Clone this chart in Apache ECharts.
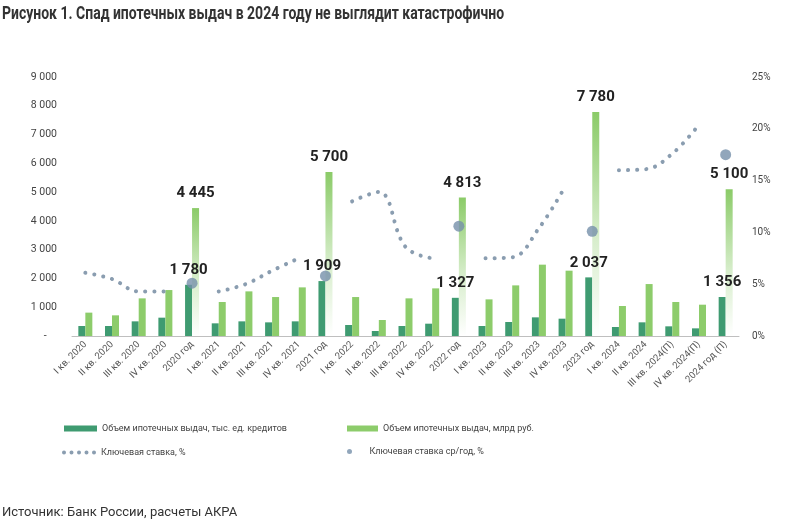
<!DOCTYPE html>
<html>
<head>
<meta charset="utf-8">
<script src="https://cdn.jsdelivr.net/npm/echarts@6/dist/echarts.min.js"></script>
<style>
html,body{margin:0;padding:0;background:#fff;}
#c{width:800px;height:527px;}
</style>
</head>
<body>
<div id="c"></div>
<script>
const categories = ['I кв. 2020','II кв. 2020','III кв. 2020','IV кв. 2020','2020 год',
  'I кв. 2021','II кв. 2021','III кв. 2021','IV кв. 2021','2021 год',
  'I кв. 2022','II кв. 2022','III кв. 2022','IV кв. 2022','2022 год',
  'I кв. 2023','II кв. 2023','III кв. 2023','IV кв. 2023','2023 год',
  'I кв. 2024','II кв. 2024','III кв. 2024(П)','IV кв. 2024(П)','2024 год (П)'];
const loansCount = [347,347,509,637,1780, 440,509,474,509,1909, 382,174,347,428,1327, 347,486,648,602,2037, 312,475,336,266,1356];
const loansVolume = [812,718,1308,1597,4445, 1181,1551,1354,1690,5700, 1354,556,1308,1655,4813, 1273,1759,2479,2270,7780, 1042,1805,1181,1088,5100];
const keyRate = [6.1,5.5,4.3,4.3,null, 4.3,5.0,6.3,7.5,null, 13.0,13.9,8.6,7.5,null, 7.5,7.6,10.4,14.5,null, 16.0,16.1,17.6,20.4,null];
const keyRateAvg = [null,null,null,null,5.1, null,null,null,null,5.8, null,null,null,null,10.6, null,null,null,null,10.1, null,null,null,null,17.5];
const leftTicks = [0,1000,2000,3000,4000,5000,6000,7000,8000,9000];
const rightTicks = [0,5,10,15,20,25];

const names = ['Объем ипотечных выдач, тыс. ед. кредитов','Объем ипотечных выдач, млрд руб.','Ключевая ставка, %','Ключевая ставка ср/год, %'];
const titleText = 'Рисунок 1. Спад ипотечных выдач в 2024 году не выглядит катастрофично';
const sourceText = 'Источник: Банк России, расчеты АКРА';
const DARK = '#3f9b71', LIGHT = '#8dcc6b', DOT = '#8a9db0', AVG = '#7590aa';
const FONT = 'Roboto, "Noto Sans", sans-serif';
const fmt = v => String(v).replace(/\B(?=(\d{3})+(?!\d))/g, ' ');
const isYear = c => c.indexOf('год') >= 0;

const labelStyle = {show:true, position:'top', distance:7, fontSize:15, fontWeight:'bold', color:'#222', fontFamily:FONT, formatter: p => fmt(p.value)};

const darkData = loansCount.map((v,i) => isYear(categories[i]) ? {value:v, label:labelStyle} : v);
const lightData = loansVolume.map((v,i) => isYear(categories[i]) ? {
  value:v, label:labelStyle,
  itemStyle:{color:new echarts.graphic.LinearGradient(0,0,0,1,[
    {offset:0,color:'#8bcb68'},{offset:0.55,color:'#d6edca'},{offset:1,color:'#ffffff'}])}
} : v);

const dotsIcon = 'path://M0,2a2,2 0 1,0 4,0a2,2 0 1,0 -4,0Z M7.5,2a2,2 0 1,0 4,0a2,2 0 1,0 -4,0Z M15,2a2,2 0 1,0 4,0a2,2 0 1,0 -4,0Z M22.5,2a2,2 0 1,0 4,0a2,2 0 1,0 -4,0Z M30,2a2,2 0 1,0 4,0a2,2 0 1,0 -4,0Z';
const legText = {fontSize:9, color:'#444', fontFamily:FONT};

const chart = echarts.init(document.getElementById('c'), null, {renderer:'canvas'});
chart.setOption({
  animation:false,
  backgroundColor:'#fff',
  textStyle:{fontFamily:FONT},
  graphic:[
    {type:'text', x:2, y:6, scaleX:0.8, style:{text:titleText, font:'bold 17.5px Roboto, sans-serif', fill:'#333'}},
    {type:'text', x:2, y:506, style:{text:sourceText, font:'13px Roboto, sans-serif', fill:'#333'}}
  ],
  legend:[
    {data:[names[0]], left:64, top:424, padding:0, itemWidth:33, itemHeight:6, icon:'rect', textStyle:legText},
    {data:[names[1]], left:347, top:424, padding:0, itemWidth:31, itemHeight:6, icon:'rect', textStyle:legText},
    {data:[{name:names[2], icon:dotsIcon}], left:62, top:448, padding:0, itemWidth:34, itemHeight:4, textStyle:legText},
    {data:[{name:names[3], icon:'circle'}], left:347, top:447, padding:0, itemWidth:30, itemHeight:5, textStyle:legText}
  ],
  grid:{left:72, right:61, top:77, bottom:191, outerBoundsMode:'none'},
  xAxis:{type:'category', data:categories,
    axisLine:{lineStyle:{color:'#bfbfbf', width:1}}, axisTick:{show:false},
    axisLabel:{interval:0, rotate:45, fontSize:9.5, color:'#555', margin:7}},
  yAxis:[
    {type:'value', min:leftTicks[0], max:leftTicks[leftTicks.length-1], interval:1000,
     splitLine:{show:false}, axisLine:{show:false}, axisTick:{show:false},
     axisLabel:{fontSize:10.5, color:'#444', margin:15, formatter:v => v===0 ? '-    ' : fmt(v)}},
    {type:'value', min:rightTicks[0], max:rightTicks[rightTicks.length-1], interval:5,
     splitLine:{show:false}, axisLine:{show:false}, axisTick:{show:false},
     axisLabel:{fontSize:10, color:'#444', margin:13, formatter:'{value}%'}}
  ],
  series:[
    {name:names[0], type:'bar', data:darkData, barWidth:7, barGap:'0%', itemStyle:{color:DARK}, z:2},
    {name:names[1], type:'bar', data:lightData, barWidth:7, barGap:'0%', itemStyle:{color:LIGHT}, z:2},
    {name:names[2], type:'line', yAxisIndex:1, data:keyRate, smooth:0.4, connectNulls:false, showSymbol:false,
     itemStyle:{color:DOT},
     lineStyle:{color:DOT, width:4, type:[0.1,9], cap:'round'}, z:3},
    {name:names[3], type:'scatter', yAxisIndex:1, data:keyRateAvg, symbolSize:11, itemStyle:{color:AVG}, z:4}
  ]
});
</script>
</body>
</html>
